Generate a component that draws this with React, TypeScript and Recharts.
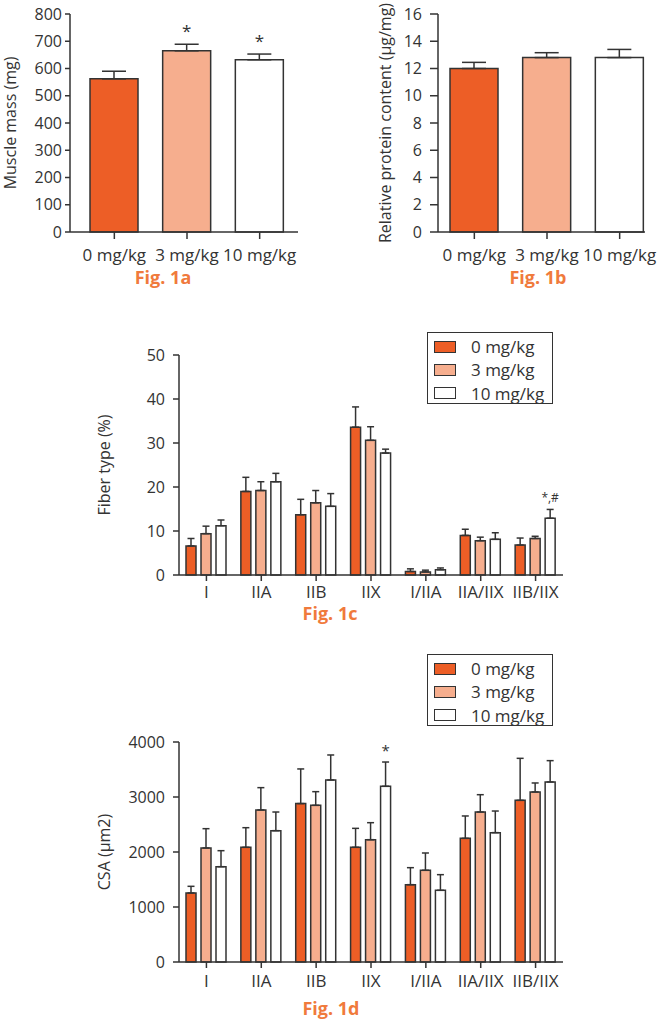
import { Bar, BarChart, Cell, ErrorBar, LabelList, Legend, XAxis, YAxis } from "recharts";

const doses = ["0 mg/kg", "3 mg/kg", "10 mg/kg"];

const muscleMass = [562, 665, 632];
const muscleMassErr = [28, 24, 21];
const muscleMassMarks = ["", "*", "*"];

const proteinContent = [12.0, 12.8, 12.8];
const proteinContentErr = [0.45, 0.36, 0.6];

const fiberTypes = ["I", "IIA", "IIB", "IIX", "I/IIA", "IIA/IIX", "IIB/IIX"];

const fiberPct0 = [6.6, 19.0, 13.7, 33.6, 0.8, 9.0, 6.8];
const fiberPct0Err = [1.7, 3.2, 3.5, 4.6, 0.6, 1.4, 1.6];
const fiberPct3 = [9.4, 19.2, 16.4, 30.6, 0.7, 7.8, 8.3];
const fiberPct3Err = [1.7, 2.0, 2.8, 3.1, 0.4, 0.8, 0.5];
const fiberPct10 = [11.2, 21.2, 15.6, 27.7, 1.2, 8.1, 12.9];
const fiberPct10Err = [1.3, 1.9, 2.9, 0.9, 0.4, 1.5, 2.0];
const fiberPct10Marks = ["", "", "", "", "", "", "*,#"];

const csa0 = [1255, 2085, 2880, 2085, 1406, 2248, 2939];
const csa0Err = [121, 357, 630, 345, 309, 407, 764];
const csa3 = [2073, 2764, 2848, 2224, 1667, 2727, 3091];
const csa3Err = [351, 406, 249, 309, 315, 315, 164];
const csa10 = [1733, 2388, 3309, 3194, 1303, 2352, 3273];
const csa10Err = [291, 339, 455, 442, 285, 393, 388];
const csa10Marks = ["", "", "", "*", "", "", ""];

const doseColors = ["#ED5E26", "#F6AE8E", "#FFFFFF"];
const INK = "#333333";
const TEXT = "#333333";
const FIG_ORANGE = "#F07A3C";
const FONT = "'Open Sans', sans-serif";

const axisStyle = { stroke: INK, strokeWidth: 1.5 };
const yTickStyle = { fill: TEXT, fontSize: 16 };
const xTickStyle = { fill: TEXT, fontSize: 17 };

// sig marks sit a few px above the top of the error bar
function markLabel(values: number[], errs: number[], fontSize: number, gap: number) {
  return (props: any) => {
    const { index, value } = props;
    if (!value) return null;
    const vb = props.viewBox ?? props;
    const h = Math.abs(vb.height);
    const top = Math.min(vb.y, vb.y + vb.height);
    const errTop = top - (h * errs[index]) / values[index];
    return (
      <text x={vb.x + vb.width / 2} y={errTop - gap} textAnchor="middle" fill={TEXT} fontSize={fontSize}>
        {value}
      </text>
    );
  };
}

function DoseLegend({ payload }: any) {
  const items = [...(payload ?? [])].sort((a: any, b: any) => doses.indexOf(a.value) - doses.indexOf(b.value));
  return (
    <div
      style={{
        width: 124,
        height: 68,
        border: `1.5px solid ${INK}`,
        background: "#fff",
        paddingTop: 2,
        boxSizing: "content-box",
      }}
    >
      {items.map((entry: any) => (
        <div key={entry.value} style={{ display: "flex", alignItems: "center", height: 23.3 }}>
          <span
            style={{
              display: "inline-block",
              width: 20,
              height: 10,
              marginLeft: 6,
              background: doseColors[doses.indexOf(entry.value)],
              border: `1.5px solid ${INK}`,
            }}
          />
          <span style={{ marginLeft: 15, fontSize: 17, color: TEXT }}>{entry.value}</span>
        </div>
      ))}
    </div>
  );
}

function FigLabel({ text, cx, top }: { text: string; cx: number; top: number }) {
  return (
    <div
      style={{
        position: "absolute",
        left: cx - 60,
        top,
        width: 120,
        textAlign: "center",
        fontSize: 18,
        lineHeight: "18px",
        fontWeight: 700,
        color: FIG_ORANGE,
      }}
    >
      {text}
    </div>
  );
}

function SinglePanel({
  values,
  errs,
  marks,
  domain,
  ticks,
  yLabel,
  yAxisWidth,
  labelOffset,
  width,
  marginRight,
  padding,
  ySize,
  yMargin,
}: {
  values: number[];
  errs: number[];
  marks: string[];
  domain: [number, number];
  ticks: number[];
  yLabel: string;
  yAxisWidth: number;
  labelOffset: number;
  width: number;
  marginRight: number;
  padding: { left: number; right: number };
  ySize: number;
  yMargin: number;
}) {
  const data = doses.map((dose, i) => ({ dose, value: values[i], err: [0, errs[i]], mark: marks[i] }));
  return (
    <BarChart width={width} height={290} data={data} margin={{ top: 14, right: marginRight, bottom: 18, left: 0 }}>
      <XAxis
        dataKey="dose"
        height={40}
        padding={padding}
        axisLine={axisStyle}
        tickLine={axisStyle}
        tickSize={7}
        tickMargin={10}
        tick={xTickStyle}
        interval={0}
      />
      <YAxis
        type="number"
        domain={domain}
        ticks={ticks}
        width={yAxisWidth}
        axisLine={axisStyle}
        tickLine={axisStyle}
        tickSize={ySize}
        tickMargin={yMargin}
        tick={yTickStyle}
        interval={0}
        label={{
          value: yLabel,
          angle: -90,
          position: "insideLeft",
          offset: labelOffset,
          style: { textAnchor: "middle", fill: TEXT, fontSize: 16 },
        }}
      />
      <Bar dataKey="value" barSize={48} stroke={INK} strokeWidth={1.5} isAnimationActive={false}>
        {data.map((d, i) => (
          <Cell key={d.dose} fill={doseColors[i]} />
        ))}
        <ErrorBar dataKey="err" direction="y" width={12} stroke={INK} strokeWidth={1.5} isAnimationActive={false} />
        <LabelList dataKey="mark" content={markLabel(values, errs, 17, 7)} />
      </Bar>
    </BarChart>
  );
}

function GroupedPanel({
  series,
  marks,
  domain,
  ticks,
  yLabel,
  height,
  marginTop,
  xHeight,
  xMargin,
  legendTop,
  markSize,
  markGap,
}: {
  series: { values: number[]; errs: number[] }[];
  marks: string[];
  domain: [number, number];
  ticks: number[];
  yLabel: string;
  height: number;
  marginTop: number;
  xHeight: number;
  xMargin: number;
  legendTop: number;
  markSize: number;
  markGap: number;
}) {
  const data = fiberTypes.map((type, i) => {
    const row: Record<string, any> = { type, mark: marks[i] };
    series.forEach((s, k) => {
      row[`v${k}`] = s.values[i];
      row[`e${k}`] = [0, s.errs[i]];
    });
    return row;
  });
  return (
    <BarChart
      width={490}
      height={height}
      data={data}
      barGap={5}
      barSize={10}
      margin={{ top: marginTop, right: 17, bottom: 0, left: 0 }}
    >
      <XAxis
        dataKey="type"
        height={xHeight}
        axisLine={axisStyle}
        tickLine={axisStyle}
        tickSize={6}
        tickMargin={xMargin}
        tick={xTickStyle}
        interval={0}
      />
      <YAxis
        type="number"
        domain={domain}
        ticks={ticks}
        width={89}
        axisLine={axisStyle}
        tickLine={axisStyle}
        tickSize={6}
        tickMargin={8}
        tick={yTickStyle}
        interval={0}
        label={{
          value: yLabel,
          angle: -90,
          position: "insideLeft",
          offset: 14,
          style: { textAnchor: "middle", fill: TEXT, fontSize: 16 },
        }}
      />
      <Legend
        layout="vertical"
        align="center"
        verticalAlign="middle"
        content={(props: any) => <DoseLegend {...props} />}
        wrapperStyle={{ top: legendTop, left: 337, width: 130 }}
      />
      {series.map((s, k) => (
        <Bar
          key={doses[k]}
          dataKey={`v${k}`}
          name={doses[k]}
          fill={doseColors[k]}
          stroke={INK}
          strokeWidth={1.5}
          isAnimationActive={false}
        >
          <ErrorBar dataKey={`e${k}`} direction="y" width={3.5} stroke={INK} strokeWidth={1.5} isAnimationActive={false} />
          {k === 2 ? <LabelList dataKey="mark" content={markLabel(s.values, s.errs, markSize, markGap)} /> : null}
        </Bar>
      ))}
    </BarChart>
  );
}

export default function App() {
  return (
    <div
      style={{
        position: "absolute",
        left: 0,
        top: 0,
        width: 657,
        height: 1021,
        background: "#fff",
        fontFamily: FONT,
        overflow: "hidden",
      }}
    >
      <div style={{ position: "absolute", left: 0, top: 0 }}>
        <SinglePanel
          values={muscleMass}
          errs={muscleMassErr}
          marks={muscleMassMarks}
          domain={[0, 800]}
          ticks={[0, 100, 200, 300, 400, 500, 600, 700, 800]}
          yLabel="Muscle mass (mg)"
          yAxisWidth={70}
          labelOffset={10}
          width={330}
          marginRight={32}
          padding={{ left: 8, right: 2 }}
          ySize={5}
          yMargin={3}
        />
      </div>
      <FigLabel text="Fig. 1a" cx={163} top={268} />

      <div style={{ position: "absolute", left: 330, top: 0 }}>
        <SinglePanel
          values={proteinContent}
          errs={proteinContentErr}
          marks={["", "", ""]}
          domain={[0, 16]}
          ticks={[0, 2, 4, 6, 8, 10, 12, 14, 16]}
          yLabel="Relative protein content (μg/mg)"
          yAxisWidth={108}
          labelOffset={55}
          width={327}
          marginRight={12}
          padding={{ left: 0, right: -11 }}
          ySize={8}
          yMargin={8}
        />
      </div>
      <FigLabel text="Fig. 1b" cx={538} top={268} />

      <div style={{ position: "absolute", left: 90, top: 320 }}>
        <GroupedPanel
          series={[
            { values: fiberPct0, errs: fiberPct0Err },
            { values: fiberPct3, errs: fiberPct3Err },
            { values: fiberPct10, errs: fiberPct10Err },
          ]}
          marks={fiberPct10Marks}
          domain={[0, 50]}
          ticks={[0, 10, 20, 30, 40, 50]}
          yLabel="Fiber type (%)"
          height={290}
          marginTop={35}
          xHeight={35}
          xMargin={5}
          legendTop={12}
          markSize={12}
          markGap={7}
        />
      </div>
      <FigLabel text="Fig. 1c" cx={330} top={604} />

      <div style={{ position: "absolute", left: 90, top: 640 }}>
        <GroupedPanel
          series={[
            { values: csa0, errs: csa0Err },
            { values: csa3, errs: csa3Err },
            { values: csa10, errs: csa10Err },
          ]}
          marks={csa10Marks}
          domain={[0, 4000]}
          ticks={[0, 1000, 2000, 3000, 4000]}
          yLabel="CSA (μm2)"
          height={360}
          marginTop={102}
          xHeight={38}
          xMargin={7}
          legendTop={14}
          markSize={15}
          markGap={6}
        />
      </div>
      <FigLabel text="Fig. 1d" cx={331} top={999} />
    </div>
  );
}
